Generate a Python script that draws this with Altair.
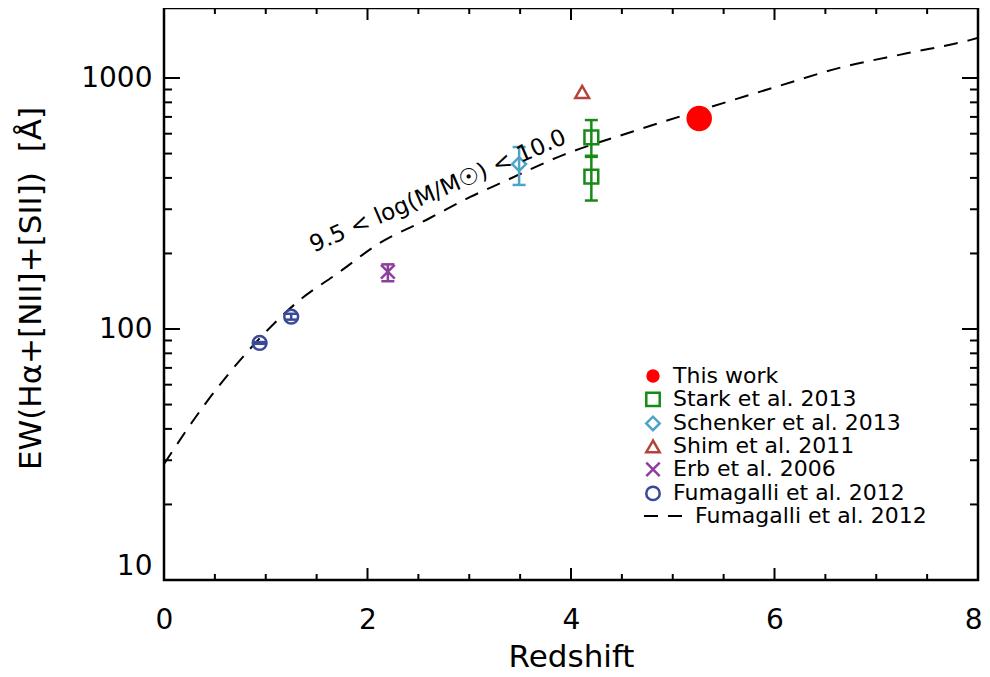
import altair as alt
import pandas as pd

# ---------------- data ----------------
series = ["This work", "Stark et al. 2013", "Schenker et al. 2013",
          "Shim et al. 2011", "Erb et al. 2006", "Fumagalli et al. 2012"]
colors = ["#ff0000", "#168a16", "#4ea3c6", "#b4433c", "#8e3f9e", "#38489a"]
shapes = ["circle", "square", "diamond", "triangle-up",
          "M-1,-1L1,1M1,-1L-1,1", "circle"]

this_z, this_ew = [5.26], [690]
stark_z, stark_ew = [4.2, 4.2], [580, 405]
stark_lo, stark_hi = [490, 325], [680, 485]
schenker_z, schenker_ew = [3.49], [454]
schenker_lo, schenker_hi = [375], [531]
shim_z, shim_ew = [4.11], [880]
erb_z, erb_ew = [2.2], [169]
erb_lo, erb_hi = [155], [181]
fum_z, fum_ew = [0.94, 1.25], [88, 112]
fum_lo, fum_hi = [87.3, 109], [88.7, 115]

curve_name = "Fumagalli et al. 2012"
curve_z = [0, 0.4, 0.83, 1.34, 1.7, 2.12, 2.6, 3.01, 3.33, 3.92, 4.6,
           5.25, 6.0, 6.67, 7.3, 7.92, 8.0]
curve_ew = [29, 50, 82, 131, 166, 220, 275, 336, 385, 493, 611,
            740, 918, 1106, 1254, 1416, 1445]

label_text = ["9.5 < log(M/M\u2609) < 10.0"]
label_z, label_ew = [2.72], [334]

x_major = [0, 2, 4, 6, 8]
x_minor = [0.5, 1, 1.5, 2.5, 3, 3.5, 4.5, 5, 5.5, 6.5, 7, 7.5]
y_major = [10, 100, 1000]
y_minor = [20, 30, 40, 50, 60, 70, 80, 90, 200, 300, 400, 500, 600, 700, 800, 900]

# ---------------- tables ----------------
this_df = pd.DataFrame({"series": series[0], "z": this_z, "ew": this_ew})
pts = pd.DataFrame(
    [(series[1], z, e) for z, e in zip(stark_z, stark_ew)] +
    [(series[2], z, e) for z, e in zip(schenker_z, schenker_ew)] +
    [(series[3], z, e) for z, e in zip(shim_z, shim_ew)] +
    [(series[4], z, e) for z, e in zip(erb_z, erb_ew)] +
    [(series[5], z, e) for z, e in zip(fum_z, fum_ew)],
    columns=["series", "z", "ew"])

errs = pd.DataFrame(
    [(series[1], z, l, h) for z, l, h in zip(stark_z, stark_lo, stark_hi)] +
    [(series[2], z, l, h) for z, l, h in zip(schenker_z, schenker_lo, schenker_hi)] +
    [(series[4], z, l, h) for z, l, h in zip(erb_z, erb_lo, erb_hi)] +
    [(series[5], z, l, h) for z, l, h in zip(fum_z, fum_lo, fum_hi)],
    columns=["series", "z", "lo", "hi"])

curve = pd.DataFrame({"z": curve_z, "ew": curve_ew, "model": curve_name})
lab = pd.DataFrame({"z": label_z, "ew": label_ew, "text": label_text})

W, H = 814, 572
FONT = "DejaVu Sans"
ROW = 23.4

xs = alt.Scale(domain=[0, 8], nice=False, zero=False)
ys = alt.Scale(type="log", domain=[10, 1901], nice=False)

stroke_s = alt.Scale(domain=series[1:], range=colors[1:])
shape_s = alt.Scale(domain=series[1:], range=shapes[1:])
fill_s = alt.Scale(domain=series[:1], range=colors[:1])


def legend(y, **kw):
    return alt.Legend(title=None, orient="none", legendX=478, legendY=y,
                      labelFontSize=22, labelFont=FONT, labelColor="black",
                      labelLimit=400, symbolSize=180, symbolStrokeWidth=2.5,
                      rowPadding=0, labelOffset=9, padding=0, **kw)


legA = legend(357)
legB = legend(357 + ROW, symbolFillColor="transparent")

last_x = x_major[-1]
xaxis = alt.Axis(values=x_major, ticks=False, tickSize=0, domain=False, grid=False,
                 labelFontSize=28, labelFont=FONT, labelColor="black",
                 labelPadding=26, labelFlush=False,
                 labelAlign={"condition": {"test": f"datum.value == {last_x}", "value": "right"},
                             "value": "center"},
                 labelOffset={"condition": {"test": f"datum.value == {last_x}", "value": 4},
                              "value": 0},
                 title="Redshift", titleFontSize=31, titleFont=FONT,
                 titleFontWeight="normal", titleColor="black",
                 titleY=86, titleBaseline="alphabetic")
yaxis = alt.Axis(values=y_major, format="d", ticks=False, tickSize=0, domain=False,
                 grid=False, labelFontSize=28, labelFont=FONT, labelColor="black",
                 labelPadding=12, labelFlush=True,
                 title="EW(H\u03b1+[NII]+[SII])\u00a0\u00a0[\u00c5]", titleFontSize=31,
                 titleFont=FONT, titleFontWeight="normal", titleColor="black",
                 titleAngle=270, titleX=-133, titleY=280, titleAlign="center",
                 titleBaseline="middle")


def X(f="z"):
    return alt.X(f + ":Q", scale=xs, axis=xaxis)


def Y(f="ew"):
    return alt.Y(f + ":Q", scale=ys, axis=yaxis)


this_pt = alt.Chart(this_df).mark_point(filled=True, shape="circle", size=650,
                                        opacity=1).encode(
    x=X(), y=Y(),
    fill=alt.Fill("series:N", scale=fill_s, legend=legA))

points = alt.Chart(pts).mark_point(filled=False, strokeWidth=2.5, opacity=1,
                                   size=190).encode(
    x=X(), y=Y(),
    stroke=alt.Stroke("series:N", scale=stroke_s, legend=legB),
    shape=alt.Shape("series:N", scale=shape_s, legend=legB))

line = alt.Chart(curve).mark_line(color="black", strokeWidth=2,
                                  interpolate="monotone", clip=True).encode(
    x=X(), y=Y(),
    strokeDash=alt.StrokeDash("model:N",
                              scale=alt.Scale(domain=[curve_name], range=[[14, 10]]),
                              legend=alt.Legend(title=None, orient="none",
                                                legendX=479, legendY=485,
                                                symbolType="stroke", symbolSize=1936,
                                                symbolStrokeColor="black",
                                                symbolStrokeWidth=2, labelLimit=400,
                                                labelFontSize=22, labelFont=FONT,
                                                labelColor="black", labelOffset=6,
                                                padding=0)))

err_rule = alt.Chart(errs).mark_rule(strokeWidth=2.5).encode(
    x=X(), y=Y("lo"), y2="hi:Q",
    stroke=alt.Stroke("series:N", scale=stroke_s, legend=None))

err_caps = alt.Chart(errs).transform_fold(["lo", "hi"], as_=["end", "ewc"]).mark_rule(
    strokeWidth=2.5, xOffset=-6.5, x2Offset=6.5).encode(
    x=X(), x2="z:Q", y=Y("ewc"),
    stroke=alt.Stroke("series:N", scale=stroke_s, legend=None))

text = alt.Chart(lab).mark_text(angle=336.6, fontSize=23, font=FONT, color="black",
                                align="center", baseline="alphabetic").encode(
    x=X(), y=Y(), text="text:N")


def xticks(vals, length):
    df = pd.DataFrame({"z": vals})
    b = alt.Chart(df).mark_rule(color="black", strokeWidth=2).encode(
        x=X(), y=alt.value(H), y2=alt.value(H - length))
    t = alt.Chart(df).mark_rule(color="black", strokeWidth=2).encode(
        x=X(), y=alt.value(0), y2=alt.value(length))
    return [b, t]


def yticks(vals, length):
    df = pd.DataFrame({"ew": vals})
    l = alt.Chart(df).mark_rule(color="black", strokeWidth=2).encode(
        y=Y(), x=alt.value(0), x2=alt.value(length))
    r = alt.Chart(df).mark_rule(color="black", strokeWidth=2).encode(
        y=Y(), x=alt.value(W), x2=alt.value(W - length))
    return [l, r]


tick_layers = xticks(x_major, 12) + xticks(x_minor, 6) + yticks(y_major, 16) + yticks(y_minor, 8)

chart = alt.layer(line, this_pt, points, err_rule, err_caps, text, *tick_layers).properties(
    width=W, height=H,
    autosize=alt.AutoSizeParams(type="none"),
    padding={"left": 156, "top": 0, "right": 4, "bottom": 89},
    background="white",
).configure(font=FONT).configure_view(stroke="black", strokeWidth=2.5)

chart.save("out.html", embed_options={"renderer": "svg", "actions": False})
